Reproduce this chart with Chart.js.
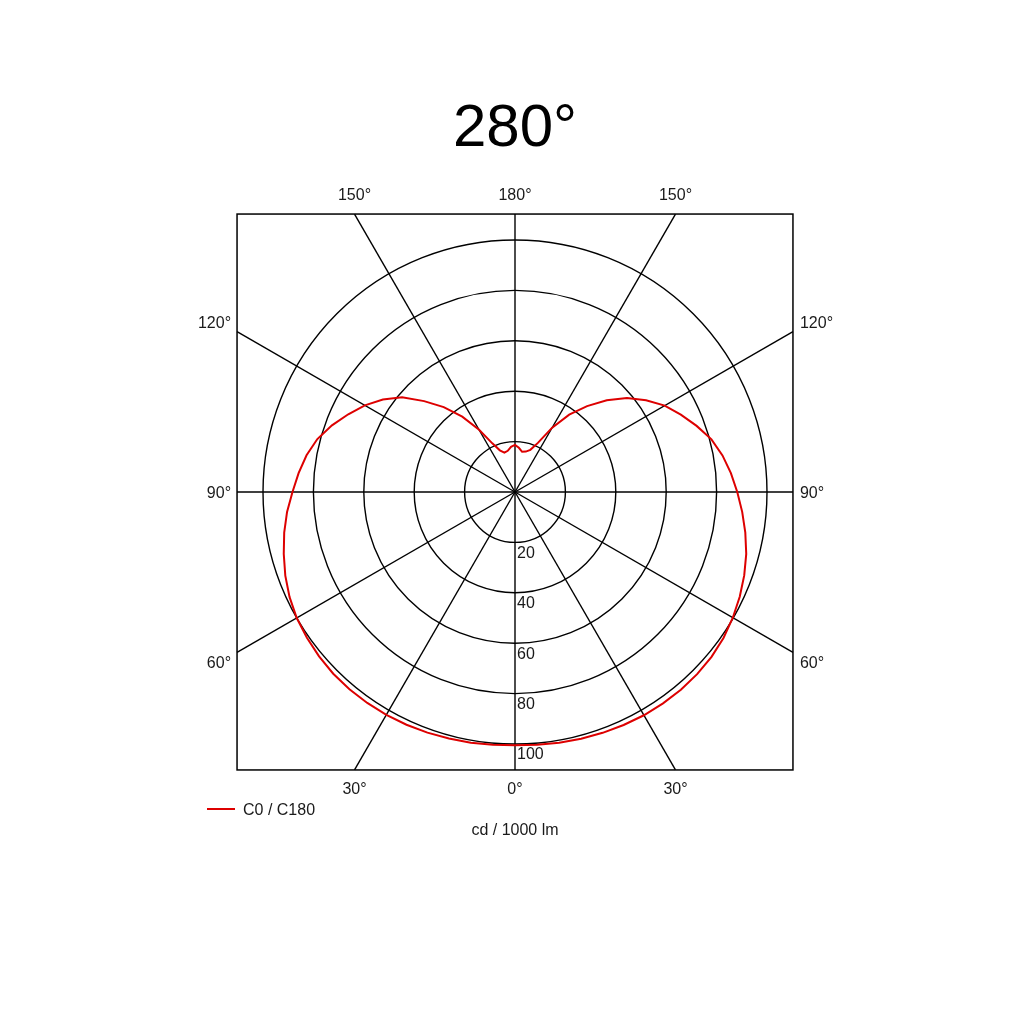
<!DOCTYPE html>
<html>
<head>
<meta charset="utf-8">
<title>280°</title>
<script src="https://cdn.jsdelivr.net/npm/chart.js@4.4.1/dist/chart.umd.min.js"></script>
<style>
  html, body { margin: 0; padding: 0; background: #ffffff; }
  canvas { display: block; }
</style>
</head>
<body>
<canvas id="myChart" width="1024" height="1024"></canvas>
<script>
// gamma angles (deg from nadir), 5 deg steps
const gammaAngles = [0, 5, 10, 15, 20, 25, 30, 35, 40, 45, 50, 55, 60, 65, 70, 75, 80, 85, 90,
  95, 100, 105, 110, 115, 120, 125, 130, 135, 140, 145, 150, 155, 160, 165, 170, 175, 180];

// left half of the diagram
const c180Values = [100.5, 100.7, 101.0, 101.3, 101.6, 101.9, 102.1, 102.2, 102.2, 102.0,
  101.5, 100.8, 100.0, 98.7, 97.0, 95.0, 93.0, 90.8, 88.3,
  86.2, 84.0, 81.2, 77.3, 73.0, 68.8, 64.0, 58.5, 51.0, 44.0,
  36.5, 28.5, 21.3, 17.6, 16.2, 16.6, 18.0, 18.7];

// right half of the diagram
const c0Values = [100.5, 100.7, 101.0, 101.4, 101.7, 102.0, 102.3, 102.4, 102.4, 102.2,
  101.8, 101.0, 99.8, 98.4, 96.8, 95.0, 92.8, 90.5, 88.2,
  86.0, 83.6, 80.7, 76.7, 72.6, 68.6, 63.5, 58.0, 51.5, 44.5,
  37.5, 29.5, 21.5, 17.8, 16.6, 16.2, 17.6, 18.7];

const radialTicks = [20, 40, 60, 80, 100];
const spokeAngles = [0, 30, 60, 90, 120, 150, 180];
const frameValue = 110.3; // square frame half size, in cd/klm

const titleText = '280°';
const seriesLabel = 'C0 / C180';
const unitLabel = 'cd / 1000 lm';

const FONT = '"Liberation Sans", Arial, sans-serif';
const TEXT_COLOR = '#1a1a1a';
const LINE_COLOR = '#dd0000';

// radar goes clockwise from the bottom: left half up, then right half down
const radarLabels = gammaAngles.concat(gammaAngles.slice(1, 36).reverse());
const radarData = c180Values.concat(c0Values.slice(1, 36).reverse());

const framePlugin = {
  id: 'polarFrame',
  beforeDatasetsDraw(chart) {
    const ctx = chart.ctx;
    const scale = chart.scales.r;
    const cx = scale.xCenter;
    const cy = scale.yCenter;
    const half = scale.getDistanceFromCenterForValue(frameValue);
    const left = cx - half, right = cx + half, top = cy - half, bottom = cy + half;

    ctx.save();
    ctx.strokeStyle = '#000';
    ctx.lineWidth = 1.5;
    ctx.strokeRect(left, top, right - left, bottom - top);

    ctx.font = '16px ' + FONT;
    ctx.fillStyle = TEXT_COLOR;

    // spokes every 30 deg, running out to the frame
    radarLabels.forEach((gamma, i) => {
      if (spokeAngles.indexOf(gamma) < 0) return;
      const p = scale.getPointPositionForValue(i, 100);
      const dx = p.x - cx;
      const dy = p.y - cy;
      const t = half / Math.max(Math.abs(dx), Math.abs(dy));
      const ex = cx + dx * t;
      const ey = cy + dy * t;

      ctx.lineWidth = 1.4;
      ctx.beginPath();
      ctx.moveTo(cx, cy);
      ctx.lineTo(ex, ey);
      ctx.stroke();

      const text = gamma + '°';
      ctx.textBaseline = 'middle';
      if (Math.abs(dy) >= Math.abs(dx) - 0.5) {
        ctx.textAlign = 'center';
        ctx.fillText(text, ex, dy < 0 ? ey - 18 : ey + 20);
      } else {
        let ly = ey + 2;
        if (dy < -1) ly -= 10;
        if (dy > 1) ly += 9;
        if (dx < 0) {
          ctx.textAlign = 'right';
          ctx.fillText(text, ex - 6, ly);
        } else {
          ctx.textAlign = 'left';
          ctx.fillText(text, ex + 7, ly);
        }
      }
    });

    // radial tick labels below the centre
    ctx.textAlign = 'left';
    ctx.textBaseline = 'middle';
    radialTicks.forEach(v => {
      ctx.fillText(String(v), cx + 2, cy + scale.getDistanceFromCenterForValue(v) + 11);
    });

    // legend and unit
    ctx.strokeStyle = LINE_COLOR;
    ctx.lineWidth = 2;
    ctx.beginPath();
    ctx.moveTo(207, 809);
    ctx.lineTo(235, 809);
    ctx.stroke();
    ctx.fillText(seriesLabel, 243, 811);

    ctx.textAlign = 'center';
    ctx.fillText(unitLabel, cx, 831);
    ctx.restore();
  }
};

const chart = new Chart(document.getElementById('myChart').getContext('2d'), {
  type: 'radar',
  data: {
    labels: radarLabels,
    datasets: [{
      label: seriesLabel,
      data: radarData,
      borderColor: LINE_COLOR,
      borderWidth: 2,
      backgroundColor: 'rgba(0,0,0,0)',
      fill: false,
      pointRadius: 0,
      tension: 0,
      clip: false
    }]
  },
  options: {
    responsive: false,
    animation: false,
    devicePixelRatio: 1,
    layout: {
      padding: { top: 93, left: 263, right: 257, bottom: 280 }
    },
    plugins: {
      legend: { display: false },
      tooltip: { enabled: false },
      title: {
        display: true,
        text: titleText,
        color: '#000',
        font: { family: FONT, size: 60, weight: 'normal', lineHeight: 1.2 },
        padding: { top: 0, bottom: 75 }
      }
    },
    scales: {
      r: {
        min: 0,
        max: 100,
        startAngle: 180,
        ticks: { display: false, stepSize: 20 },
        pointLabels: { display: false },
        angleLines: { display: false },
        grid: { circular: true, color: '#000', lineWidth: 1.4 }
      }
    }
  },
  plugins: [framePlugin]
});
</script>
</body>
</html>
